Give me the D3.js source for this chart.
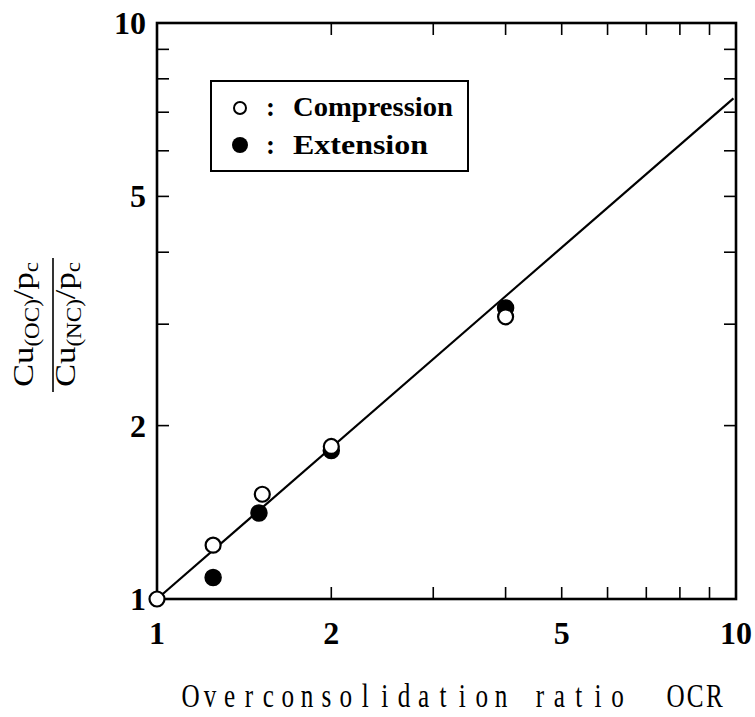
<!DOCTYPE html>
<html>
<head>
<meta charset="utf-8">
<script src="https://d3js.org/d3.v7.min.js"></script>
<style>
  html, body { margin: 0; padding: 0; background: #fff; }
  svg { display: block; }
</style>
</head>
<body>
<svg id="chart" width="755" height="717"></svg>
<script>
// Undrained strength ratio against overconsolidation ratio (log-log)
const compressionOCR = [1.0, 1.25, 1.52, 2.0, 4.0];
const compressionRatio = [1.0, 1.24, 1.52, 1.84, 3.09];
const extensionOCR = [1.25, 1.5, 2.0, 4.0];
const extensionRatio = [1.09, 1.41, 1.81, 3.2];
// fitted line end points
const fitOCR = [1.0, 9.9];
const fitRatio = [1.0, 7.4];
const xTickLabels = [1, 2, 5, 10];
const yTickLabels = [1, 2, 5, 10];
const minorTicks = [2, 3, 4, 5, 6, 7, 8, 9];

const svg = d3.select("#chart");
const plotL = 157, plotR = 736, plotT = 23, plotB = 599;

const x = d3.scaleLog().domain([1, 10]).range([plotL, plotR]);
const y = d3.scaleLog().domain([1, 10]).range([plotB, plotT]);

const serif = "'Liberation Serif', 'DejaVu Serif', serif";
const tickLen = 12;

// Inward ticks on all four sides
const g = svg.append("g").attr("stroke", "#000").attr("stroke-width", 1.6);
minorTicks.forEach(v => {
  g.append("line").attr("x1", x(v)).attr("x2", x(v)).attr("y1", plotB).attr("y2", plotB - tickLen);
  g.append("line").attr("x1", x(v)).attr("x2", x(v)).attr("y1", plotT).attr("y2", plotT + tickLen);
  g.append("line").attr("y1", y(v)).attr("y2", y(v)).attr("x1", plotL).attr("x2", plotL + tickLen);
  g.append("line").attr("y1", y(v)).attr("y2", y(v)).attr("x1", plotR).attr("x2", plotR - tickLen);
});

// Frame
svg.append("rect")
  .attr("x", plotL).attr("y", plotT)
  .attr("width", plotR - plotL).attr("height", plotB - plotT)
  .attr("fill", "none").attr("stroke", "#000").attr("stroke-width", 2.6);

// Tick labels
svg.append("g").selectAll("text").data(xTickLabels).join("text")
  .attr("x", d => x(d)).attr("y", 644)
  .attr("text-anchor", "middle")
  .attr("font-family", serif).attr("font-weight", "bold").attr("font-size", 32)
  .text(d => d);

svg.append("g").selectAll("text").data(yTickLabels).join("text")
  .attr("x", 146).attr("y", d => y(d) + 11)
  .attr("text-anchor", "end")
  .attr("font-family", serif).attr("font-weight", "bold").attr("font-size", 32)
  .text(d => d);

// Fitted line
const line = d3.line().x(d => x(d[0])).y(d => y(d[1]));
svg.append("path")
  .datum(fitOCR.map((v, i) => [v, fitRatio[i]]))
  .attr("d", line)
  .attr("fill", "none").attr("stroke", "#000").attr("stroke-width", 2.2);

// Data points
svg.append("g").selectAll("circle")
  .data(extensionOCR.map((v, i) => [v, extensionRatio[i]]))
  .join("circle")
  .attr("cx", d => x(d[0])).attr("cy", d => y(d[1])).attr("r", 8)
  .attr("fill", "#000").attr("stroke", "#000").attr("stroke-width", 1.5);

svg.append("g").selectAll("circle")
  .data(compressionOCR.map((v, i) => [v, compressionRatio[i]]))
  .join("circle")
  .attr("cx", d => x(d[0])).attr("cy", d => y(d[1])).attr("r", 7.5)
  .attr("fill", "#fff").attr("stroke", "#000").attr("stroke-width", 2.2);

// Legend
const lg = svg.append("g");
lg.append("rect").attr("x", 211).attr("y", 81).attr("width", 257).attr("height", 90)
  .attr("fill", "#fff").attr("stroke", "#000").attr("stroke-width", 2);
lg.append("circle").attr("cx", 240).attr("cy", 108).attr("r", 6)
  .attr("fill", "#fff").attr("stroke", "#000").attr("stroke-width", 2);
lg.append("circle").attr("cx", 240).attr("cy", 145).attr("r", 8).attr("fill", "#000");
[["Compression", 116], ["Extension", 154]].forEach(([t, yy]) => {
  lg.append("text").attr("x", 266).attr("y", yy)
    .attr("font-family", serif).attr("font-weight", "bold").attr("font-size", 27)
    .text(":");
  lg.append("text").attr("x", 293).attr("y", yy)
    .attr("font-family", serif).attr("font-weight", "bold").attr("font-size", 27)
    .attr("textLength", t === "Compression" ? 160 : 135).attr("lengthAdjust", "spacingAndGlyphs")
    .text(t);
});

// X axis title, set on a fixed character pitch with narrowed glyphs
const xTitle = "Overconsolidation ratio  OCR";
const pitch = 19.4, titleLeft = 181, squeeze = 0.74;
const xt = svg.append("g").attr("transform", `scale(${squeeze},1)`)
  .append("text")
  .attr("y", 707)
  .attr("font-family", serif).attr("font-size", 34)
  .attr("text-anchor", "middle");
xTitle.split("").forEach((ch, i) => {
  if (ch === " ") return;
  xt.append("tspan").attr("x", (titleLeft + pitch * (i + 0.5)) / squeeze).text(ch);
});

// Y axis title: rotated fraction
const yt = svg.append("g").attr("transform", "translate(53,325) rotate(-90)");
yt.append("line").attr("x1", -67).attr("x2", 67).attr("y1", 0).attr("y2", 0)
  .attr("stroke", "#000").attr("stroke-width", 1.6);
function fracPart(sub, yy) {
  const t = yt.append("text").attr("x", -62).attr("y", yy)
    .attr("font-family", serif).attr("font-size", 30)
    .attr("textLength", 125).attr("lengthAdjust", "spacingAndGlyphs");
  t.append("tspan").text("Cu");
  t.append("tspan").attr("font-size", 20).attr("dy", 6).text(sub);
  t.append("tspan").attr("dy", -6).text("/p");
  t.append("tspan").attr("font-size", 20).attr("dy", 5).text("c");
}
fracPart("(OC)", -20);
fracPart("(NC)", 22);
</script>
</body>
</html>
